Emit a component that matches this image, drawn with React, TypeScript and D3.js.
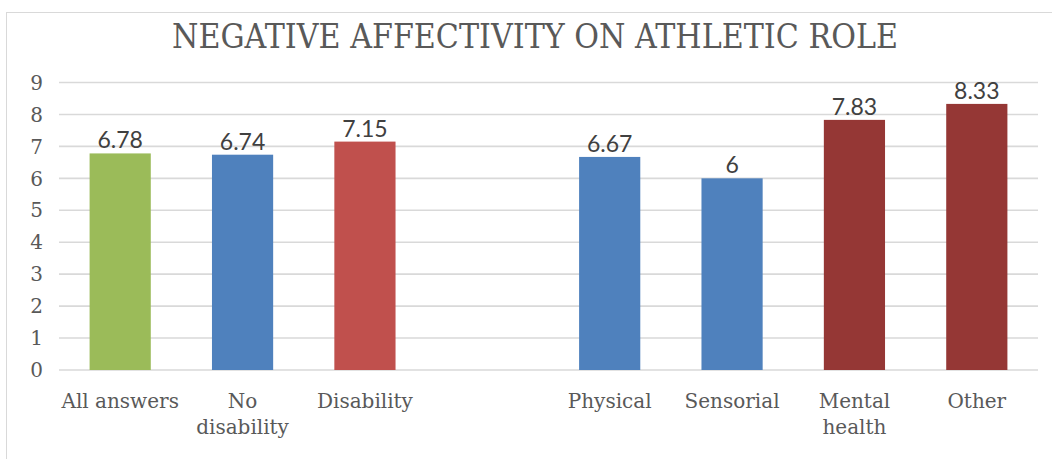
import React from "react";
import * as d3 from "d3";

const categories: string[][] = [
  ["All answers"],
  ["No", "disability"],
  ["Disability"],
  [""],
  ["Physical"],
  ["Sensorial"],
  ["Mental", "health"],
  ["Other"],
];
const values: (number | null)[] = [6.78, 6.74, 7.15, null, 6.67, 6, 7.83, 8.33];
const labels: string[] = ["6.78", "6.74", "7.15", "", "6.67", "6", "7.83", "8.33"];
const colors: string[] = ["#9BBB59", "#4F81BD", "#C0504D", "none", "#4F81BD", "#4F81BD", "#953735", "#953735"];
const yTicks: number[] = [0, 1, 2, 3, 4, 5, 6, 7, 8, 9];
const title = "NEGATIVE AFFECTIVITY ON ATHLETIC ROLE";

const W = 1052;
const H = 459;
const plotLeft = 59;
const plotRight = 1038;
const yTop = 82.5;
const yBottom = 370;
const serif = "'DejaVu Serif', 'Liberation Serif', serif";
const sans = "Lato, 'Liberation Sans', sans-serif";

export default function App() {
  const x = d3
    .scaleBand<number>()
    .domain(categories.map((_, i) => i))
    .range([plotLeft, plotRight])
    .paddingInner(0.5)
    .paddingOuter(0.25);
  const y = d3.scaleLinear().domain([0, 9]).range([yBottom, yTop]);

  return (
    <svg
      width={W}
      height={H}
      style={{ position: "absolute", left: 0, top: 0, background: "#fff" }}
    >
      <rect x={6.5} y={12.5} width={W + 20} height={H + 20} fill="#fff" stroke="#D9D9D9" />
      <text
        x={535}
        y={48}
        textAnchor="middle"
        fontFamily={serif}
        fontSize={33}
        fill="#595959"
        textLength={726}
        lengthAdjust="spacingAndGlyphs"
      >
        {title}
      </text>
      {yTicks.map((t) => (
        <g key={t}>
          <line x1={plotLeft} x2={plotRight} y1={y(t)} y2={y(t)} stroke="#D9D9D9" strokeWidth={1.6} />
          <text
            x={43}
            y={y(t)}
            dy="0.36em"
            textAnchor="end"
            fontFamily={serif}
            fontSize={20}
            fill="#595959"
          >
            {t}
          </text>
        </g>
      ))}
      {values.map((v, i) =>
        v == null ? null : (
          <g key={i}>
            <rect
              x={x(i)}
              y={y(v)}
              width={x.bandwidth()}
              height={y(0) - y(v)}
              fill={colors[i]}
            />
            <text
              x={(x(i) as number) + x.bandwidth() / 2}
              y={y(v) - 5}
              textAnchor="middle"
              fontFamily={sans}
              fontSize={23}
              fill="#404040"
            >
              {labels[i]}
            </text>
          </g>
        )
      )}
      {categories.map((lines, i) => (
        <text
          key={i}
          x={(x(i) as number) + x.bandwidth() / 2}
          y={408}
          textAnchor="middle"
          fontFamily={serif}
          fontSize={20}
          fill="#595959"
        >
          {lines.map((l, j) => (
            <tspan key={j} x={(x(i) as number) + x.bandwidth() / 2} dy={j === 0 ? 0 : 26}>
              {l}
            </tspan>
          ))}
        </text>
      ))}
    </svg>
  );
}
